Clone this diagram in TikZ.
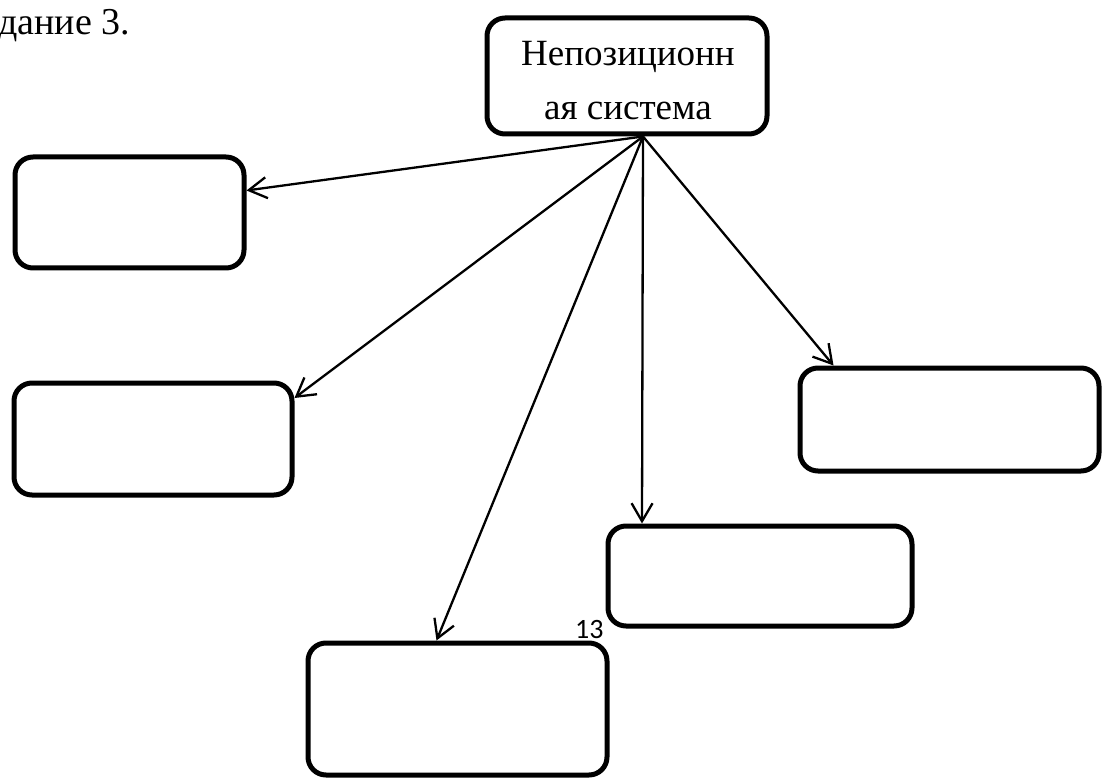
\documentclass[tikz,border=0pt]{standalone}
\usepackage{fontspec}
\setmainfont{Liberation Serif}
\newfontfamily\pagenofont{Carlito}
\usetikzlibrary{arrows.meta}

\tikzset{
	rbox/.style={draw, line width=5pt, rounded corners=18pt, inner sep=0pt},
	link/.style={line width=2.3pt, -{Straight Barb[length=18pt, width=21pt, line width=2.3pt]}}
}

\begin{document}
\begin{tikzpicture}[x=1pt, y=-1pt]
			%%%%% START %%%%%
			\useasboundingbox (0, 0) rectangle (1104, 778);
			
			\node[anchor=base west, inner sep=0pt, font=\fontsize{38}{44}\selectfont] (title) at (-2, 35) {дание 3.};
			
			\node[rbox, minimum width=280pt, minimum height=116pt] (nonpos) at (627, 76) {};
			\node[align=center, inner sep=0pt, font=\fontsize{37}{50}\selectfont] (nonposlabel) at (628, 81) {Непозиционн\\[4pt]ая система};
			
			\node[rbox, minimum width=229pt, minimum height=111pt] (b1) at (129.5, 212.5) {};
			\node[rbox, minimum width=278pt, minimum height=112pt] (b2) at (153, 439) {};
			\node[rbox, minimum width=299pt, minimum height=103pt] (b3) at (949.5, 419.5) {};
			\node[rbox, minimum width=304pt, minimum height=100pt] (b4) at (760, 576) {};
			\node[rbox, minimum width=299pt, minimum height=132pt] (b5) at (457.5, 709) {};
			
			\coordinate (hub) at ([xshift=16pt]nonpos.south);
			
			\draw[link] (hub) -- ([yshift=22pt]b1.east);
			\draw[link] (hub) -- ([yshift=41pt]b2.east);
			\draw[link] (hub) -- ([xshift=-21pt]b5.north);
			\draw[link] (hub) -- ([xshift=-118pt]b4.north);
			\draw[link] (hub) -- ([xshift=-116pt]b3.north);
			
			\node[anchor=base west, inner sep=0pt, font=\pagenofont\fontsize{28}{32}\selectfont] (pageno) at (575, 638) {13};
			
			%%%%% END %%%%%
		\end{tikzpicture}
\end{document}
